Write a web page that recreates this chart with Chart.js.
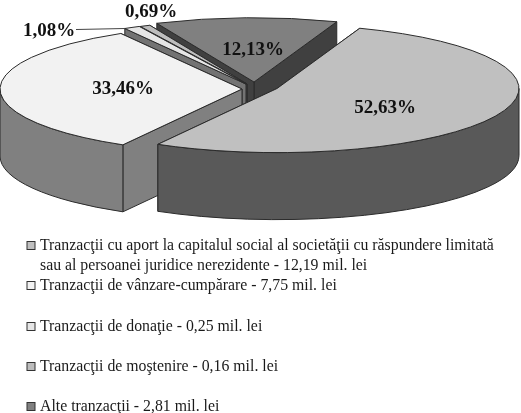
<!DOCTYPE html>
<html><head><meta charset="utf-8">
<style>html,body{margin:0;padding:0;background:#fff}canvas{display:block;filter:blur(0.4px)}</style>
<script src="https://cdn.jsdelivr.net/npm/chart.js@4/dist/chart.umd.js"></script>
</head><body>
<canvas id="c" width="521" height="413"></canvas>
<script>
const categories = [
  "Tranzacţii cu aport la capitalul social al societăţii cu răspundere limitată\nsau al persoanei juridice nerezidente - 12,19 mil. lei",
  "Tranzacţii de vânzare-cumpărare - 7,75 mil. lei",
  "Tranzacţii de donaţie - 0,25 mil. lei",
  "Tranzacţii de moştenire - 0,16 mil. lei",
  "Alte tranzacţii - 2,81 mil. lei"
];
const values = [12.19, 7.75, 0.25, 0.16, 2.81];
const percentLabels = ["52,63%", "33,46%", "1,08%", "0,69%", "12,13%"];
const topColors = ["#c0c0c0", "#f2f2f2", "#e6e6e6", "#bdbdbd", "#808080"];
const wallColors = ["#595959", "#808080", "#737373", "#5e5e5e", "#404040"];

const TILT = 0.265, DEPTH = 67, CX = 260, CY = 87;
const EXPLODE = [[17, 1.5], [-18, 2], [-14, -3], [-13, -3], [-6, -5]];
const LABEL_AT = [[385,108],[123,89],[49,31],[151,12],[253,50]];
const LEGEND_Y = [246,286,327,367,407];
const LINE = "#2b2b2b";

function apex(el, i){
  return [CX + EXPLODE[i][0], CY + EXPLODE[i][1]];
}
function drawWall(ctx, el, i){
  const [ax, ay] = apex(el, i), a = el.outerRadius, b = a * TILT;
  ctx.fillStyle = wallColors[i]; ctx.strokeStyle = LINE; ctx.lineWidth = 1;
  for (const t of [el.endAngle, el.startAngle]) {
    const px = ax + Math.cos(t) * a, py = ay + Math.sin(t) * b;
    ctx.beginPath(); ctx.moveTo(ax, ay); ctx.lineTo(px, py);
    ctx.lineTo(px, py + DEPTH); ctx.lineTo(ax, ay + DEPTH); ctx.closePath();
    ctx.fill(); ctx.stroke();
  }
  for (let k = -1; k <= 1; k++) {
    const s = Math.max(el.startAngle, 2 * Math.PI * k), e = Math.min(el.endAngle, Math.PI + 2 * Math.PI * k);
    if (e <= s) continue;
    ctx.beginPath();
    ctx.ellipse(ax, ay, a, b, 0, s, e);
    ctx.ellipse(ax, ay + DEPTH, a, b, 0, e, s, true);
    ctx.closePath(); ctx.fill(); ctx.stroke();
  }
}
function drawTop(ctx, el, i){
  const [ax, ay] = apex(el, i), a = el.outerRadius;
  ctx.save();
  ctx.translate(ax, ay); ctx.scale(1, TILT); ctx.translate(-el.x, -el.y);
  el.draw(ctx);
  ctx.restore();
  ctx.beginPath(); ctx.moveTo(ax, ay);
  ctx.ellipse(ax, ay, a, a * TILT, 0, el.startAngle, el.endAngle);
  ctx.closePath(); ctx.strokeStyle = LINE; ctx.lineWidth = 1; ctx.stroke();
}
const pie3d = {
  id: "pie3d",
  beforeDatasetsDraw(chart){
    const ctx = chart.ctx, arcs = chart.getDatasetMeta(0).data;
    for (let i = arcs.length - 1; i >= 0; i--) drawWall(ctx, arcs[i], i);
    for (let i = arcs.length - 1; i >= 0; i--) drawTop(ctx, arcs[i], i);
    return false;
  },
  afterDraw(chart){
    const ctx = chart.ctx;
    ctx.save();
    ctx.strokeStyle = "#444"; ctx.lineWidth = 1;
    ctx.beginPath(); ctx.moveTo(76, 29.5); ctx.lineTo(125, 28.5); ctx.stroke();
    ctx.fillStyle = "#111"; ctx.font = "bold 19px 'Liberation Serif'";
    ctx.textAlign = "center"; ctx.textBaseline = "middle";
    percentLabels.forEach((t, i) => ctx.fillText(t, LABEL_AT[i][0], LABEL_AT[i][1]));
    ctx.font = "15.8px 'Liberation Serif'"; ctx.textAlign = "left";
    categories.forEach((c, i) => {
      const y = LEGEND_Y[i];
      ctx.fillStyle = topColors[i]; ctx.strokeStyle = "#333";
      ctx.fillRect(27, y - 4.5, 8, 8); ctx.strokeRect(27, y - 4.5, 8, 8);
      ctx.fillStyle = "#1a1a1a";
      c.split("\n").forEach((ln, j) => ctx.fillText(ln, 40, y + j * 20));
    });
    ctx.restore();
  }
};
new Chart(document.getElementById("c"), {
  type: "pie",
  data: { labels: categories, datasets: [{ data: values, backgroundColor: topColors, borderWidth: 0, hoverOffset: 0 }] },
  options: {
    responsive: false, animation: false, rotation: 20, radius: 242,
    layout: { padding: 0 },
    plugins: { legend: { display: false }, tooltip: { enabled: false }, title: { display: false } }
  },
  plugins: [pie3d]
});
</script>
</body></html>
